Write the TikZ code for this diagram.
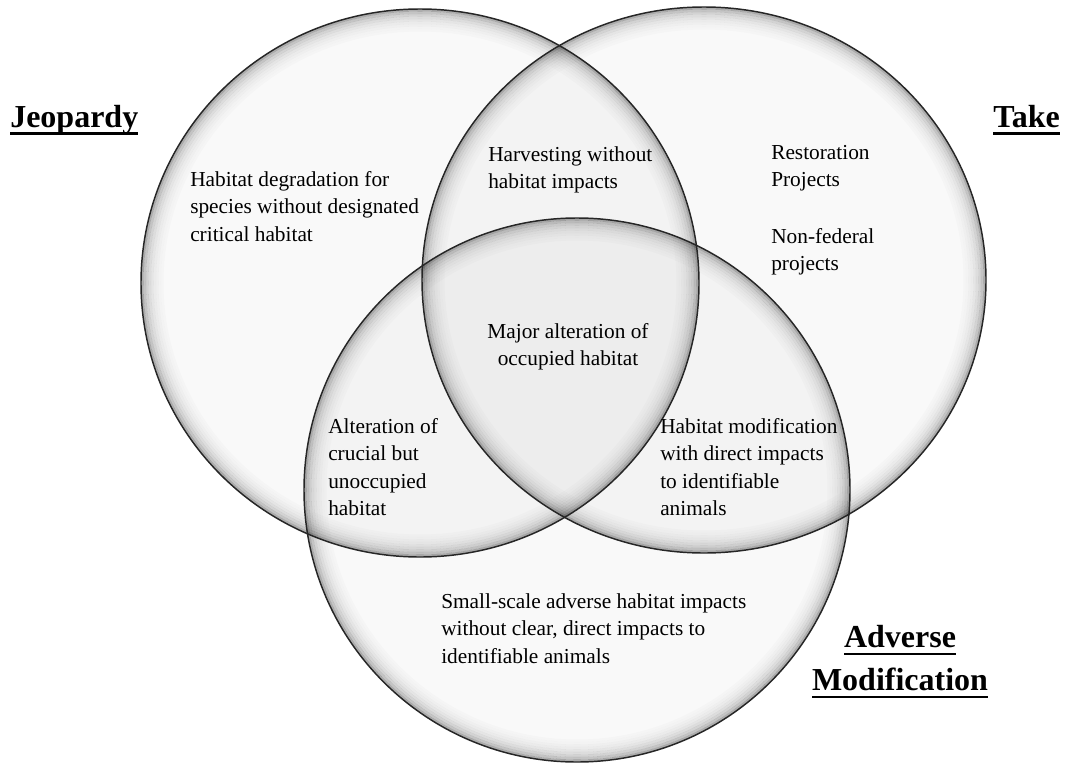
\documentclass[tikz,border=0pt]{standalone}
\usepackage{fontspec}
\setmainfont{Liberation Serif}
\usetikzlibrary{positioning}

\newcommand{\titleline}[1]{\setbox0=\hbox{#1}\rlap{\rule[-6pt]{\wd0}{2.2pt}}\box0}

\begin{document}
\begin{tikzpicture}[x=0.75pt,y=-0.75pt]
\tikzset{
  vennrim/.style={draw=black!85,line width=1.1pt},
  vennglow/.style={draw=black,line width=1.9pt},
  areatext/.style={font=\fontsize{16}{20.6}\selectfont,align=left,inner sep=0pt,anchor=north west},
  settitle/.style={font=\fontsize{24}{32.25}\selectfont\bfseries,inner sep=0pt}
}
\path[use as bounding box,fill=white] (0,0) rectangle (1072,764);
% the three sets, glass look
\begin{scope}[blend mode=multiply]
\foreach \cx/\cy/\rx/\ry in {420/283/279/274,704/280/282/273,577/490/273/272}{
  \fill[gray!5] (\cx,\cy) ellipse [x radius=\rx,y radius=\ry];
  \foreach \k/\op in {0/0.3,1/0.21,2/0.15,3/0.11,4/0.08,5/0.055,6/0.04,7/0.025,8/0.015}{
    \pgfmathsetmacro{\grx}{\rx-2.5*\k-1.25}
    \pgfmathsetmacro{\gry}{\ry-2.5*\k-1.25}
    \draw[vennglow,opacity=\op] (\cx,\cy) ellipse [x radius=\grx,y radius=\gry];
  }
}
\end{scope}
\draw[vennrim] (420,283) ellipse [x radius=279,y radius=274];
\draw[vennrim] (704,280) ellipse [x radius=282,y radius=273];
\draw[vennrim] (577,490) ellipse [x radius=273,y radius=272];
% set names
\node[settitle,anchor=base west] (n_jeopardy) at (10,127) {\titleline{Jeopardy}};
\node[settitle,anchor=base east] (n_take) at (1060,127) {\titleline{Take}};
\node[settitle,anchor=north,align=center] (n_adverse) at (900,625) {\titleline{Adverse}\\\titleline{Modification}};
% regions
\node[areatext] (n_degrad) at (190,171) {Habitat degradation for\\species without designated\\critical habitat};
\node[areatext] (n_harvest) at (488,146) {Harvesting without\\habitat impacts};
\node[areatext] (n_restore) at (771,145) {Restoration\\Projects};
\node[areatext] (n_nonfed) at (771,228) {Non-federal\\projects};
\node[areatext,anchor=north,align=center] (n_major) at (568,323) {Major alteration of\\occupied habitat};
\node[areatext] (n_crucial) at (328,418) {Alteration of\\crucial but\\unoccupied\\habitat};
\node[areatext] (n_direct) at (660,418) {Habitat modification\\with direct impacts\\to identifiable\\animals};
\node[areatext] (n_small) at (441,593) {Small-scale adverse habitat impacts\\without clear, direct impacts to\\identifiable animals};
\end{tikzpicture}
\end{document}
